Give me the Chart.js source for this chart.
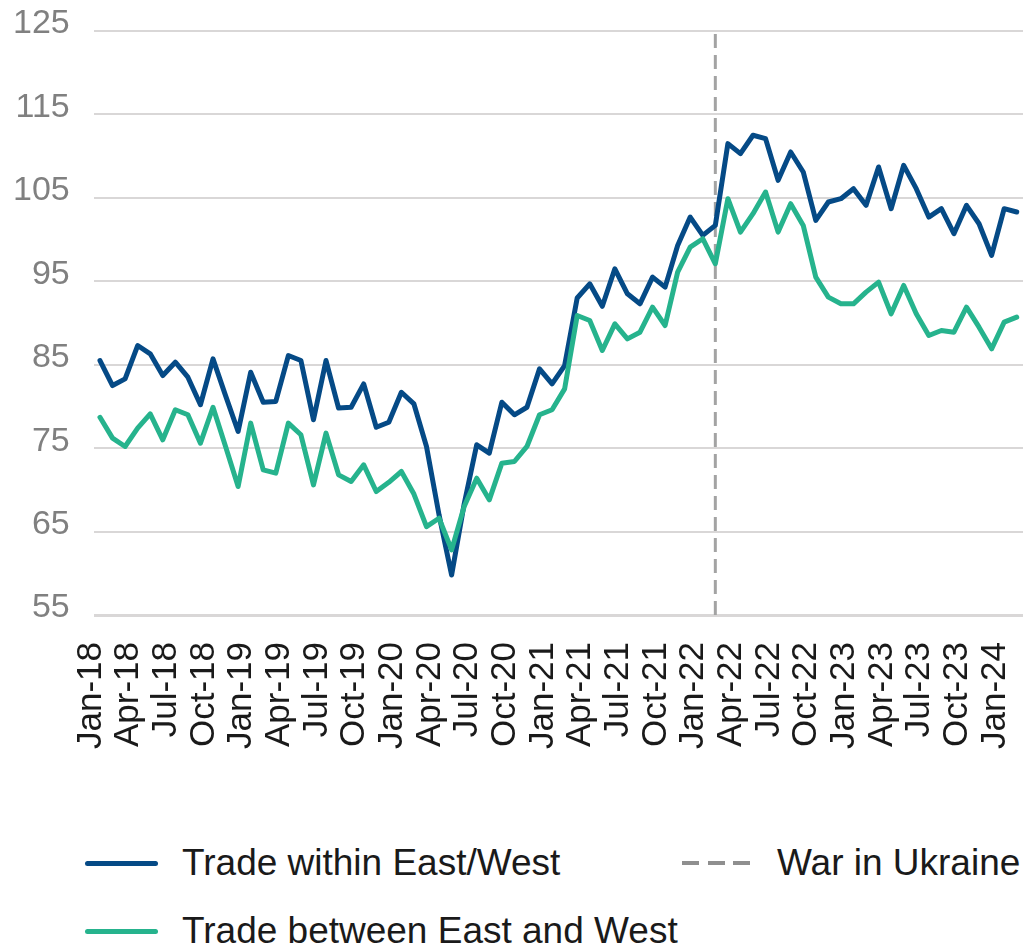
<!DOCTYPE html>
<html>
<head>
<meta charset="utf-8">
<title>Trade within and between East and West</title>
<script src="https://cdn.jsdelivr.net/npm/chart.js@4.4.1/dist/chart.umd.min.js"></script>
<style>
    body { margin: 0; background: #fff; }
    #wrap { position: relative; width: 1023px; height: 947px; font-family: "Liberation Sans", Arial, sans-serif; }
    #legend { position: absolute; left: 85px; top: 843px; display: grid; grid-template-columns: 597px auto; row-gap: 28px; }
    .legend-item { display: flex; align-items: center; height: 40px; line-height: 40px; font-size: 37px; color: #1a1a1a; white-space: nowrap; }
    .legend-line { height: 5px; margin-right: 24px; border-radius: 3px; }
</style>
</head>
<body>
<div id="wrap">
    <canvas id="myChart" width="1023" height="780"></canvas>
    <div id="legend"></div>
</div>
<script>
const months = [
    'Jan-18', 'Feb-18', 'Mar-18', 'Apr-18', 'May-18', 'Jun-18', 'Jul-18', 'Aug-18', 'Sep-18', 'Oct-18', 'Nov-18', 'Dec-18',
    'Jan-19', 'Feb-19', 'Mar-19', 'Apr-19', 'May-19', 'Jun-19', 'Jul-19', 'Aug-19', 'Sep-19', 'Oct-19', 'Nov-19', 'Dec-19',
    'Jan-20', 'Feb-20', 'Mar-20', 'Apr-20', 'May-20', 'Jun-20', 'Jul-20', 'Aug-20', 'Sep-20', 'Oct-20', 'Nov-20', 'Dec-20',
    'Jan-21', 'Feb-21', 'Mar-21', 'Apr-21', 'May-21', 'Jun-21', 'Jul-21', 'Aug-21', 'Sep-21', 'Oct-21', 'Nov-21', 'Dec-21',
    'Jan-22', 'Feb-22', 'Mar-22', 'Apr-22', 'May-22', 'Jun-22', 'Jul-22', 'Aug-22', 'Sep-22', 'Oct-22', 'Nov-22', 'Dec-22',
    'Jan-23', 'Feb-23', 'Mar-23', 'Apr-23', 'May-23', 'Jun-23', 'Jul-23', 'Aug-23', 'Sep-23', 'Oct-23', 'Nov-23', 'Dec-23',
    'Jan-24', 'Feb-24'
];

const tickLabels = [
    'Jan-18', 'Apr-18', 'Jul-18', 'Oct-18', 'Jan-19', 'Apr-19', 'Jul-19', 'Oct-19',
    'Jan-20', 'Apr-20', 'Jul-20', 'Oct-20', 'Jan-21', 'Apr-21', 'Jul-21', 'Oct-21',
    'Jan-22', 'Apr-22', 'Jul-22', 'Oct-22', 'Jan-23', 'Apr-23', 'Jul-23', 'Oct-23', 'Jan-24'
];

const withinEastWest = [
    85.5, 82.5, 83.3, 87.3, 86.3, 83.7, 85.3, 83.5, 80.2, 85.7, 81.3, 77.0,
    84.1, 80.5, 80.6, 86.1, 85.5, 78.4, 85.5, 79.8, 79.9, 82.7, 77.5, 78.1,
    81.7, 80.3, 75.2, 67.0, 59.8, 68.3, 75.4, 74.4, 80.5, 79.0, 79.9, 84.5,
    82.7, 84.9, 93.0, 94.7, 92.0, 96.5, 93.5, 92.3, 95.5, 94.3, 99.3, 102.7,
    100.5, 101.7, 111.5, 110.3, 112.5, 112.1, 107.1, 110.5, 108.1, 102.3, 104.5, 104.9,
    106.1, 104.1, 108.7, 103.7, 108.9, 106.1, 102.7, 103.7, 100.7, 104.1, 101.9, 98.1,
    103.7, 103.3
];

const betweenEastWest = [
    78.7, 76.2, 75.2, 77.4, 79.1, 76.0, 79.6, 79.0, 75.6, 79.9, 75.2, 70.4,
    78.0, 72.4, 72.0, 78.0, 76.6, 70.6, 76.8, 71.8, 71.0, 73.0, 69.8, 70.9,
    72.2, 69.5, 65.6, 66.6, 62.8, 68.0, 71.4, 68.8, 73.2, 73.4, 75.2, 79.0,
    79.6, 82.1, 90.9, 90.3, 86.7, 89.9, 88.1, 88.9, 91.9, 89.7, 96.1, 99.1,
    100.1, 97.1, 104.9, 100.9, 103.1, 105.7, 100.9, 104.3, 101.7, 95.5, 93.1, 92.3,
    92.3, 93.7, 94.9, 91.1, 94.5, 91.1, 88.5, 89.1, 88.9, 91.9, 89.5, 86.9,
    90.1, 90.7
];

// invasion month, drawn as a vertical dashed line across the full y range
const warMonth = 'Feb-22';
const yMin = 55;
const yMax = 125;
const yStep = 10;

const ctx = document.getElementById('myChart').getContext('2d');
const myChart = new Chart(ctx, {
    type: 'line',
    data: {
        labels: months,
        datasets: [{
            label: 'Trade within East/West',
            data: withinEastWest,
            borderColor: '#054a86',
            borderWidth: 5,
            borderJoinStyle: 'round',
            borderCapStyle: 'round',
            pointRadius: 0,
            fill: false,
            order: 1
        },
        {
            label: 'War in Ukraine',
            data: [{ x: warMonth, y: yMin }, { x: warMonth, y: yMax }],
            borderColor: '#a3a3a3',
            borderWidth: 3,
            borderDash: [14, 7],
            pointRadius: 0,
            fill: false,
            order: 2
        },
        {
            label: 'Trade between East and West',
            data: betweenEastWest,
            borderColor: '#26b38d',
            borderWidth: 5,
            borderJoinStyle: 'round',
            borderCapStyle: 'round',
            pointRadius: 0,
            fill: false,
            order: 0
        }]
    },
    options: {
        responsive: false,
        animation: false,
        layout: {
            padding: { top: 31, left: 0, right: 0, bottom: 0 }
        },
        plugins: {
            legend: { display: false },
            tooltip: { enabled: false }
        },
        scales: {
            x: {
                type: 'category',
                offset: true,
                grid: { display: false, drawTicks: false },
                border: { display: false },
                ticks: {
                    autoSkip: false,
                    minRotation: 90,
                    maxRotation: 90,
                    padding: 27,
                    labelOffset: -9,
                    color: '#1a1a1a',
                    font: { family: 'Liberation Sans', size: 35 },
                    callback: function(value) {
                        const label = this.getLabelForValue(value);
                        return tickLabels.includes(label) ? label : '';
                    }
                },
                afterFit: function(scale) {
                    scale.height = 165;
                    scale.paddingLeft = 0;
                    scale.paddingRight = 0;
                }
            },
            y: {
                min: yMin,
                max: yMax,
                grid: {
                    color: '#d9d7d7',
                    lineWidth: c => (c.tick && c.tick.value === yMin ? 3 : 2),
                    drawTicks: false
                },
                border: { display: false },
                ticks: {
                    stepSize: yStep,
                    padding: 24,
                    labelOffset: -7,
                    color: '#808080',
                    font: { family: 'Liberation Sans', size: 34 }
                },
                afterFit: function(scale) {
                    scale.width = 93.7;
                    scale.paddingTop = 0;
                    scale.paddingBottom = 0;
                }
            }
        }
    }
});

// legend as html, built from the chart's own datasets
function buildLegend(chart) {
    const legend = document.getElementById('legend');
    legend.innerHTML = '';
    chart.data.datasets.forEach(ds => {
        const item = document.createElement('div');
        item.className = 'legend-item';
        const line = document.createElement('span');
        line.className = 'legend-line';
        if (ds.borderDash) {
            line.style.width = '68px';
            line.style.height = '4px';
            line.style.marginRight = '27px';
            line.style.borderRadius = '0';
            line.style.background = 'repeating-linear-gradient(to right, #8f8f8f 0 17px, transparent 17px 25.5px)';
        } else {
            line.style.width = '73px';
            line.style.background = ds.borderColor;
        }
        const text = document.createElement('span');
        text.textContent = ds.label;
        item.appendChild(line);
        item.appendChild(text);
        legend.appendChild(item);
    });
}

buildLegend(myChart);
</script>
</body>
</html>
